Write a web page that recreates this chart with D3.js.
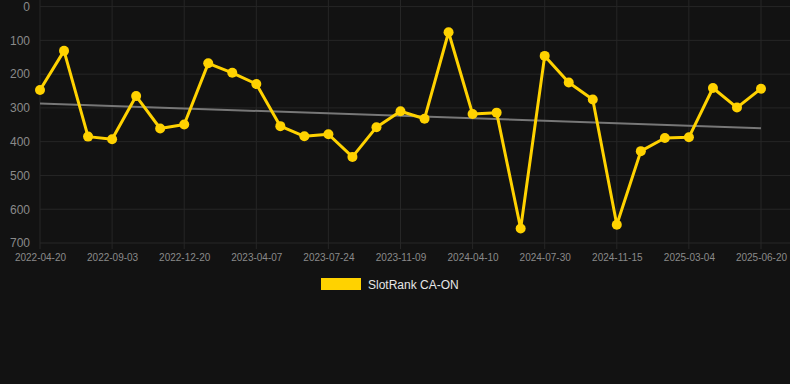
<!DOCTYPE html>
<html>
<head>
<meta charset="utf-8">
<script src="https://cdn.jsdelivr.net/npm/d3@7"></script>
<style>
  html, body { margin: 0; padding: 0; background: #121212; }
  svg { display: block; font-family: "Liberation Sans", Arial, sans-serif; }
</style>
</head>
<body>
<svg id="chart"></svg>
<script>
// dates shown on the x axis (every third point carries a label)
const tickLabels = ["2022-04-20", "2022-09-03", "2022-12-20", "2023-04-07", "2023-07-24",
  "2023-11-09", "2024-04-10", "2024-07-30", "2024-11-15", "2025-03-04", "2025-06-20"];

// one entry per point, in order
const categories = [
  "2022-04-20", "2022-06-05", "2022-07-20", "2022-09-03", "2022-10-10", "2022-11-15",
  "2022-12-20", "2023-01-25", "2023-03-02", "2023-04-07", "2023-05-13", "2023-06-18",
  "2023-07-24", "2023-08-29", "2023-10-04", "2023-11-09", "2023-12-30", "2024-02-19",
  "2024-04-10", "2024-05-16", "2024-06-23", "2024-07-30", "2024-09-05", "2024-10-10",
  "2024-11-15", "2024-12-20", "2025-01-27", "2025-03-04", "2025-04-08", "2025-05-14",
  "2025-06-20"
];

const rankValues = [
  247, 131, 385, 393, 265, 361, 349, 168, 196, 229, 354, 384, 378, 445, 357, 310,
  332, 76, 318, 314, 657, 146, 225, 275, 646, 428, 389, 387, 241, 299, 243
];

// trend line endpoints
const trendValues = [287, 360];

const yTicks = [0, 100, 200, 300, 400, 500, 600, 700];

const width = 790;
const height = 384;
const margin = { top: 6.6, right: 29, bottom: 141, left: 40 };

const svg = d3.select("#chart")
  .attr("width", width)
  .attr("height", height);

const innerWidth = width - margin.left - margin.right;
const innerHeight = height - margin.top - margin.bottom;

const x = d3.scalePoint()
  .domain(categories)
  .range([0, innerWidth]);

// rank axis: 0 on top
const y = d3.scaleLinear()
  .domain([0, 700])
  .range([0, innerHeight]);

const g = svg.append("g")
  .attr("transform", `translate(${margin.left},${margin.top})`);

// horizontal grid
g.append("g")
  .selectAll("line")
  .data(yTicks)
  .enter()
  .append("line")
  .attr("x1", 0)
  .attr("x2", width - margin.left)
  .attr("y1", d => y(d))
  .attr("y2", d => y(d))
  .attr("stroke", "#262626")
  .attr("stroke-width", 1);

// vertical grid
g.append("g")
  .selectAll("line")
  .data(tickLabels)
  .enter()
  .append("line")
  .attr("x1", d => x(d))
  .attr("x2", d => x(d))
  .attr("y1", -margin.top)
  .attr("y2", innerHeight + 6)
  .attr("stroke", "#262626")
  .attr("stroke-width", 1);

// y axis labels
const yAxis = g.append("g")
  .attr("transform", "translate(-10,0)")
  .call(d3.axisLeft(y).tickValues(yTicks).tickSize(0).tickPadding(0));
yAxis.select(".domain").remove();
yAxis.selectAll("text")
  .attr("fill", "#8a8a8a")
  .attr("font-size", 12)
  .attr("font-family", "Liberation Sans, Arial, sans-serif");

// x axis labels
const xAxis = g.append("g")
  .attr("transform", `translate(0,${innerHeight})`)
  .call(d3.axisBottom(x).tickValues(tickLabels).tickSize(0).tickPadding(11));
xAxis.select(".domain").remove();
xAxis.selectAll("text")
  .attr("fill", "#8a8a8a")
  .attr("font-size", 10)
  .attr("font-family", "Liberation Sans, Arial, sans-serif");

// trend line
const trendLine = d3.line()
  .x((d, i) => x(i === 0 ? categories[0] : categories[categories.length - 1]))
  .y(d => y(d));

g.append("path")
  .datum(trendValues)
  .attr("fill", "none")
  .attr("stroke", "#777")
  .attr("stroke-width", 2)
  .attr("d", trendLine);

// main series
const line = d3.line()
  .x((d, i) => x(categories[i]))
  .y(d => y(d));

g.append("path")
  .datum(rankValues)
  .attr("fill", "none")
  .attr("stroke", "#ffd200")
  .attr("stroke-width", 3)
  .attr("stroke-linejoin", "round")
  .attr("d", line);

g.selectAll("circle")
  .data(rankValues)
  .enter()
  .append("circle")
  .attr("cx", (d, i) => x(categories[i]))
  .attr("cy", d => y(d))
  .attr("r", 5)
  .attr("fill", "#ffd200");

// legend
const legend = svg.append("g")
  .attr("transform", "translate(321,278)");

legend.append("rect")
  .attr("width", 40)
  .attr("height", 12)
  .attr("fill", "#ffd200");

legend.append("text")
  .attr("x", 47)
  .attr("y", 10.5)
  .attr("fill", "#e6e6e6")
  .attr("font-size", 12)
  .text("SlotRank CA-ON");
</script>
</body>
</html>
